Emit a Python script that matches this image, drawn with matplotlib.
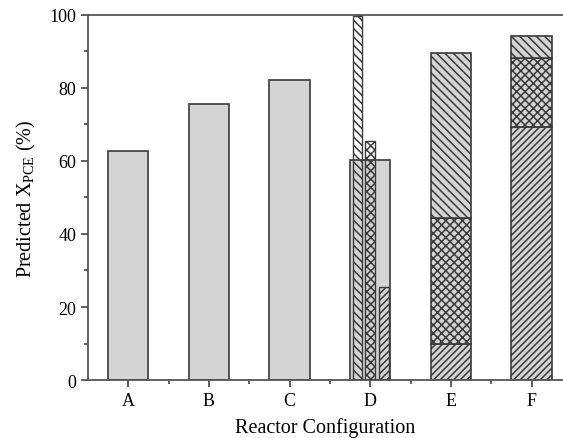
import numpy as np
import matplotlib
matplotlib.use('Agg')
import matplotlib.pyplot as plt

plt.rcParams['font.family'] = ['Liberation Serif', 'DejaVu Serif']
plt.rcParams['mathtext.fontset'] = 'custom'
plt.rcParams['mathtext.rm'] = 'Liberation Serif'
plt.rcParams['hatch.linewidth'] = 1.1
plt.rcParams['hatch.color'] = '#2a2a2a'

# data
configs = ['A', 'B', 'C', 'D', 'E', 'F']
single_vals = [62.7, 75.7, 82.2, 60.2]          # plain gray bars A-D
d_parts = [99.8, 65.4, 25.6]                    # narrow hatched bars in D
back = '\\' * 4
d_hatches = [back, 'xxxx', '/////']
d_offsets = [-0.16, 0.0, 0.17]
e_stack = [9.9, 34.5, 45.3]                     # bottom, middle, top
f_stack = [69.4, 18.8, 6.0]
stack_hatches = ['/////', 'xxxx', back]

fill = '#d4d4d4'
edge = '#3a3a3a'

fig = plt.figure(figsize=(5.63, 4.39), dpi=100)
ax = fig.add_axes([0.1563, 0.1321, 0.8437, 0.8315])

x = np.arange(len(configs))

# plain bars
ax.bar(x[:4], single_vals, width=0.5, color=fill, edgecolor=edge, linewidth=1.2, zorder=2)

# narrow bars in D, drawn on top without fill
for off, v, h in zip(d_offsets, d_parts, d_hatches):
    ax.bar(x[3] + off, v, width=0.12, color='none', edgecolor=edge,
           hatch=h, linewidth=1.0, zorder=3)

# stacked bars E and F
for xi, stack in [(x[4], e_stack), (x[5], f_stack)]:
    bottom = 0
    for v, h in zip(stack, stack_hatches):
        ax.bar(xi, v, bottom=bottom, width=0.5, color=fill, edgecolor=edge,
               hatch=h, linewidth=1.2, zorder=2)
        bottom += v

ax.set_xlim(-0.5, 5.39)
ax.set_ylim(0, 100)
ax.set_xticks(x)
ax.set_xticklabels(configs)
ax.set_xticks(x[:-1] + 0.5, minor=True)
ax.set_yticks(np.arange(0, 101, 20))
ax.set_yticks(np.arange(10, 100, 20), minor=True)

ax.tick_params(which='both', direction='out', colors='#444444', labelcolor='black',
               labelsize=13, width=1.2)
ax.tick_params(which='major', length=5)
ax.tick_params(which='minor', length=3)

for s in ['left', 'bottom', 'top']:
    ax.spines[s].set_color('#555555')
    ax.spines[s].set_linewidth(1.3)
ax.spines['right'].set_visible(False)

ax.set_xlabel('Reactor Configuration', fontsize=14.5, labelpad=6)
ax.set_ylabel('Predicted X$_{\\mathrm{PCE}}$ (%)', fontsize=14.5, labelpad=8)

plt.savefig('out.png', dpi=100)
